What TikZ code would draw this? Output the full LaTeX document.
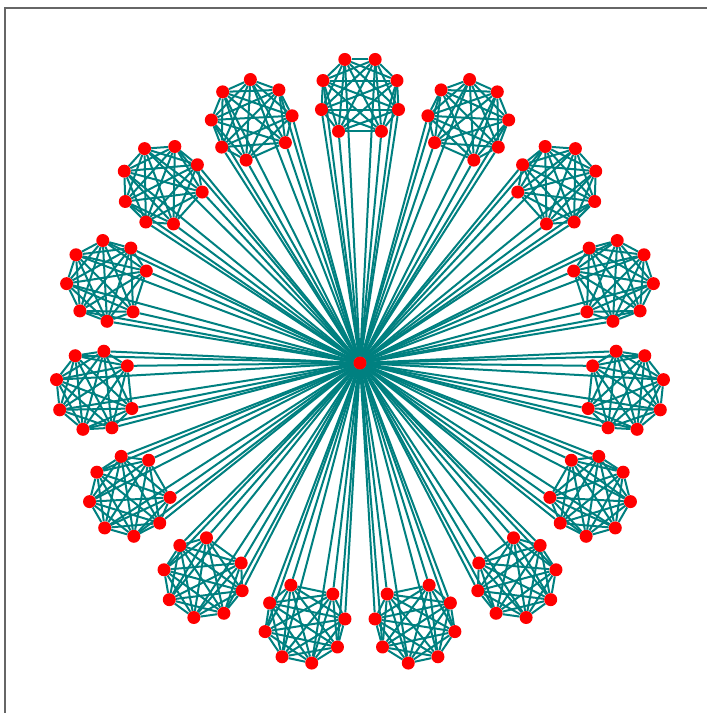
\documentclass[tikz,border=0pt]{standalone}
\usetikzlibrary{backgrounds}
\definecolor{edgeteal}{RGB}{0,128,128}

\tikzset{
  dot/.style={circle, fill=red, inner sep=0pt, minimum size=13pt},
  link/.style={edgeteal, line width=2pt},
  frame/.style={draw=black!60, line width=1.5pt}
}

\begin{document}
\begin{tikzpicture}[x=1pt, y=1pt]
  \useasboundingbox (-360,-350) rectangle (347,363);
  % axes frame (cut at the right and bottom)
  \draw[frame] (-355,-351) -- (-355,355) -- (348,355);
  % hub
  \node[dot] (hub) at (0,0) {};
  % fifteen rings of eight
  \foreach \k in {0,...,14}{
    \pgfmathsetmacro{\t}{90-24*\k}
    \foreach \a [count=\j] in {22,66,108,148,212,252,294,338}{
      \node[dot] (v-\k-\j) at ([shift={(\t:266)}]{\t+\a}:40.5) {};
    }
  }
  \begin{pgfonlayer}{background}
    \foreach \k in {0,...,14}{
      \foreach \i in {1,...,8}{
        \draw[link] (hub) -- (v-\k-\i);
        \foreach \j in {\i,...,8}{
          \ifnum\i<\j \draw[link] (v-\k-\i) -- (v-\k-\j); \fi
        }
      }
    }
  \end{pgfonlayer}
\end{tikzpicture}
\end{document}
